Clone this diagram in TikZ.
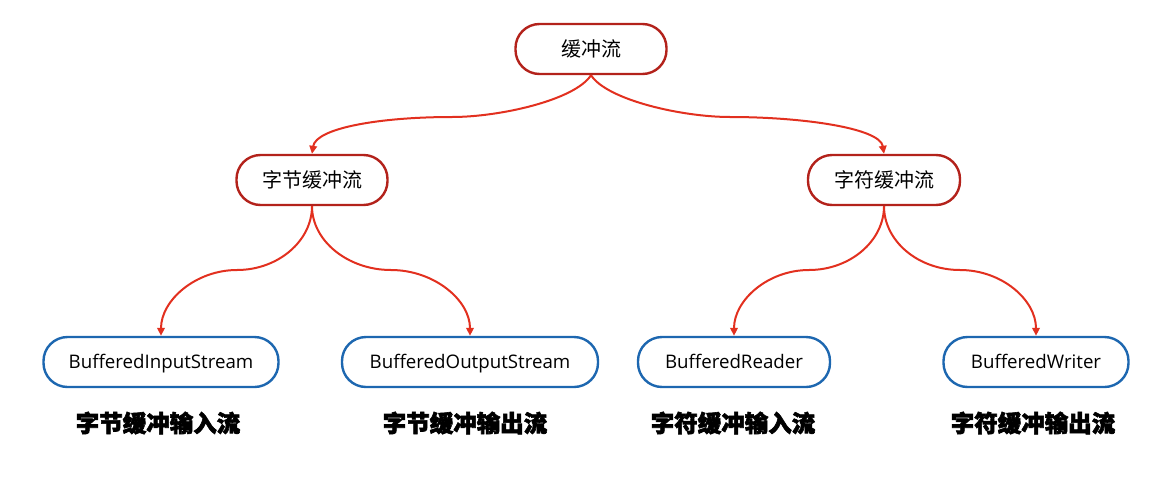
\documentclass[tikz,border=0pt]{standalone}
\usepackage{fontspec}
\setmainfont{Noto Sans CJK SC}
\newfontfamily\latinface{Open Sans}
\newfontfamily\cjkheavy[BoldFeatures={FakeBold=2.5}]{Noto Sans CJK SC}
\usetikzlibrary{arrows.meta}
\definecolor{boxred}{HTML}{B3221B}
\definecolor{linkred}{HTML}{E2301F}
\definecolor{boxblue}{HTML}{1D67B0}
\begin{document}
\begin{tikzpicture}[x=1pt,y=-1pt,
  pill/.style={line width=2.4pt, rounded corners=24pt,
    minimum height=50pt, fill=white, inner sep=0pt},
  redbox/.style={pill, draw=boxred, font=\fontsize{20}{22}\selectfont},
  bluebox/.style={pill, draw=boxblue, font=\latinface\fontsize{18.7}{21}\selectfont,
    text height=13.3pt, text depth=0pt},
  caption/.style={font=\cjkheavy\bfseries\fontsize{23.5}{26}\selectfont},
  link/.style={draw=linkred, line width=2pt, -{Triangle[length=8pt,width=7.5pt]}}
]
\useasboundingbox (0,0) rectangle (1158,482);

% top level
\node[redbox, minimum width=151pt] (root) at (591,49) {缓冲流};
% second level
\node[redbox, minimum width=151pt] (byte) at (312,180) {字节缓冲流};
\node[redbox, minimum width=152pt] (char) at (884,180) {字符缓冲流};
% leaves
\node[bluebox, minimum width=235pt] (bis) at (161,362) {BufferedInputStream};
\node[bluebox, minimum width=256pt] (bos) at (470,362) {BufferedOutputStream};
\node[bluebox, minimum width=192pt] (br)  at (734,362) {BufferedReader};
\node[bluebox, minimum width=185pt] (bw)  at (1036,362) {BufferedWriter};

% captions
\node[caption] (c1) at (158,423) {字节缓冲输入流};
\node[caption] (c2) at (465,423) {字节缓冲输出流};
\node[caption] (c3) at (733,423) {字符缓冲输入流};
\node[caption] (c4) at (1033,423) {字符缓冲输出流};

% turning points of the S-shaped connectors
\coordinate (m1) at (452,117);
\coordinate (m2) at (730,117);
\coordinate (m3) at (237,270);
\coordinate (m4) at (391,270);
\coordinate (m5) at (809,270);
\coordinate (m6) at (960,270);

% connectors
\draw[link] (root.south) .. controls (575,100) and (500,117) .. (m1)
                         .. controls (380,117) and (316,128) .. (byte.north);
\draw[link] (root.south) .. controls (607,100) and (682,117) .. (m2)
                         .. controls (802,117) and (880,128) .. (char.north);
\draw[link] (byte.south) .. controls (312,241) and (278,270) .. (m3)
                         .. controls (196,270) and (161,300) .. (bis.north);
\draw[link] (byte.south) .. controls (312,241) and (348,270) .. (m4)
                         .. controls (434,270) and (470,300) .. (bos.north);
\draw[link] (char.south) .. controls (884,241) and (850,270) .. (m5)
                         .. controls (768,270) and (734,300) .. (br.north);
\draw[link] (char.south) .. controls (884,241) and (918,270) .. (m6)
                         .. controls (1002,270) and (1036,300) .. (bw.north);
\end{tikzpicture}
\end{document}
